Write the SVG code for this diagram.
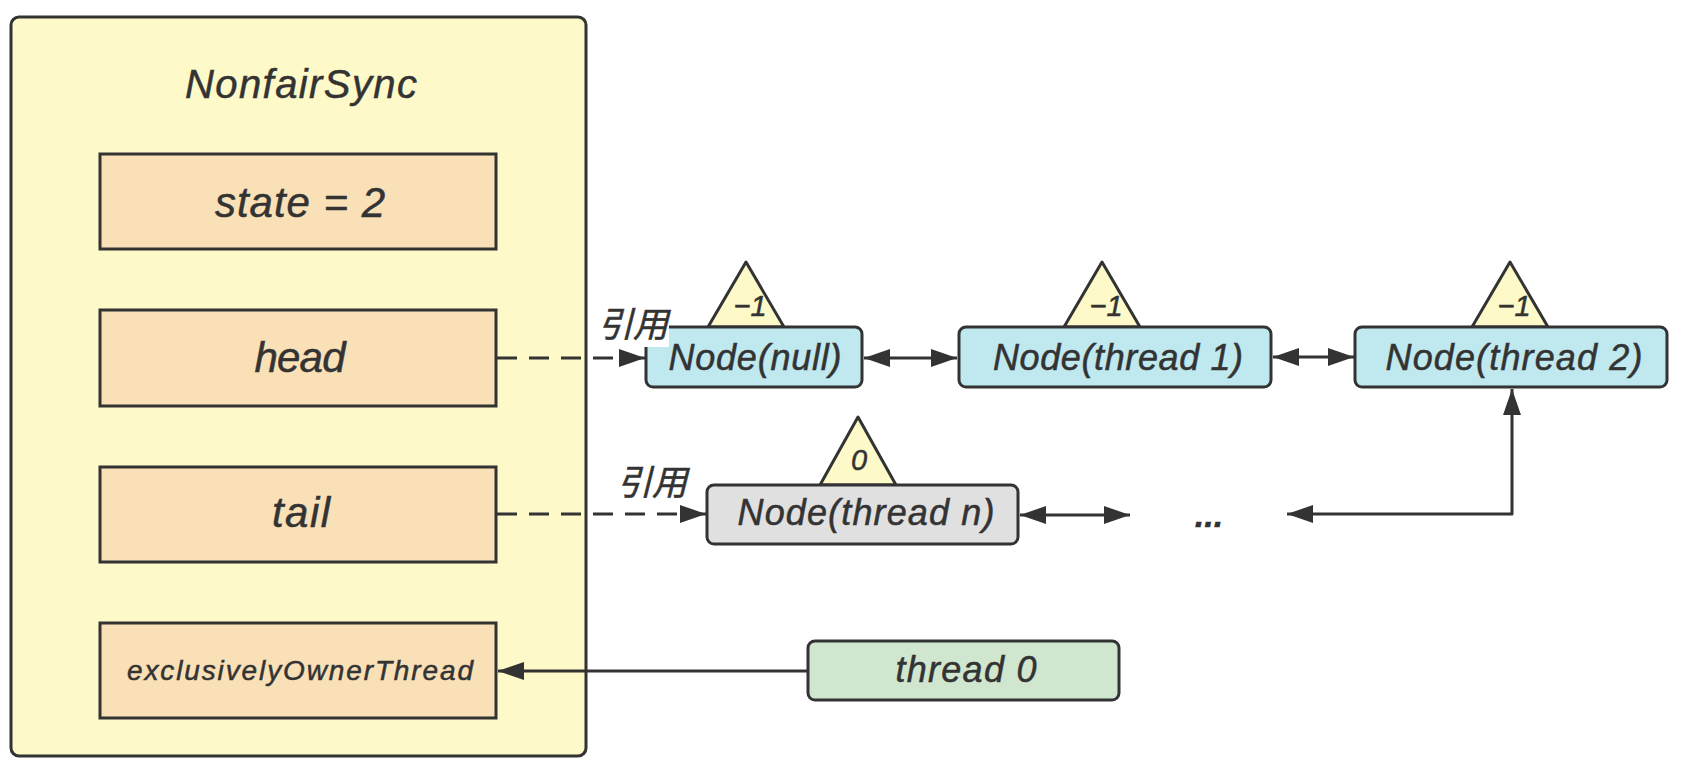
<svg xmlns="http://www.w3.org/2000/svg" width="1686" height="778" viewBox="0 0 1686 778">
<defs>
<style>
.t{font-family:"Liberation Sans",Arial,sans-serif;font-style:italic;fill:#333;stroke:#333;stroke-width:0.5;text-anchor:middle}
.cjk{font-family:"Liberation Sans","Noto Sans CJK SC",sans-serif;font-style:italic;fill:#333;stroke:#333;stroke-width:0.6;text-anchor:middle}
.outer{fill:#fef9c8;stroke:#333;stroke-width:3}
.field{fill:#f9e0b7;stroke:#333;stroke-width:3}
.node{fill:#bfe8ef;stroke:#333;stroke-width:3}
.gnode{fill:#e0e0e0;stroke:#333;stroke-width:3}
.thr{fill:#d0e6ce;stroke:#333;stroke-width:3}
.tri{fill:#fef9c8;stroke:#333;stroke-width:3;stroke-linejoin:round}
.ln{fill:none;stroke:#333;stroke-width:3}
.dash{stroke-dasharray:20 12}
</style>
<marker id="ah" markerUnits="userSpaceOnUse" markerWidth="26" markerHeight="20" refX="26" refY="10" orient="auto-start-reverse">
<path d="M0,1 L26,10 L0,19 z" fill="#333"/>
</marker>
</defs>
<rect width="1686" height="778" fill="#fff"/>

<g id="nonfairsync">
<rect class="outer" x="11" y="17" width="575" height="739" rx="8"/>
<text class="t" x="301" y="98" font-size="40" textLength="232">NonfairSync</text>
</g>
<g id="state">
<rect class="field" x="100" y="154" width="396" height="95"/>
<text class="t" x="300" y="217" font-size="42" textLength="170">state = 2</text>
</g>
<g id="head">
<rect class="field" x="100" y="310" width="396" height="96"/>
<text class="t" x="300" y="372" font-size="42" textLength="91">head</text>
</g>
<g id="tail">
<rect class="field" x="100" y="467" width="396" height="95"/>
<text class="t" x="301" y="527" font-size="42" textLength="58">tail</text>
</g>
<g id="owner">
<rect class="field" x="100" y="623" width="396" height="95"/>
<text class="t" x="300" y="680" font-size="28" textLength="346">exclusivelyOwnerThread</text>
</g>

<g id="node-null">
<polygon class="tri" points="746,262 784,327 708,327"/>
<text class="t" x="750" y="316" font-size="29">−1</text>
<rect class="node" x="646" y="327" width="216" height="60" rx="7"/>
<text class="t" x="755" y="370" font-size="36" textLength="173">Node(null)</text>
</g>
<g id="node-thread1">
<polygon class="tri" points="1102,262 1140,327 1064,327"/>
<text class="t" x="1106" y="316" font-size="29">−1</text>
<rect class="node" x="959" y="327" width="312" height="60" rx="7"/>
<text class="t" x="1118" y="370" font-size="36" textLength="250">Node(thread 1)</text>
</g>
<g id="node-thread2">
<polygon class="tri" points="1510,262 1548,327 1472,327"/>
<text class="t" x="1514" y="316" font-size="29">−1</text>
<rect class="node" x="1355" y="327" width="312" height="60" rx="7"/>
<text class="t" x="1514" y="370" font-size="36" textLength="257">Node(thread 2)</text>
</g>
<g id="node-threadn">
<polygon class="tri" points="858,417 896,485 820,485"/>
<text class="t" x="859" y="470" font-size="29">0</text>
<rect class="gnode" x="707" y="485" width="311" height="59" rx="7"/>
<text class="t" x="866" y="525" font-size="36" textLength="257">Node(thread n)</text>
</g>
<g id="ellipsis">
<text class="t" x="1209" y="527" font-size="34" font-weight="bold">...</text>
</g>
<g id="thread0">
<rect class="thr" x="808" y="641" width="311" height="59" rx="7"/>
<text class="t" x="966" y="682" font-size="36" textLength="141">thread 0</text>
</g>

<g id="connectors">
<line class="ln dash" x1="497" y1="358" x2="645" y2="358" marker-end="url(#ah)"/>
<rect x="594" y="300" width="75" height="47" fill="#fff"/>
<text class="cjk" x="633" y="337" font-size="35">引用</text>
<line class="ln dash" x1="497" y1="514" x2="706" y2="514" marker-end="url(#ah)"/>
<text class="cjk" x="652" y="495" font-size="35">引用</text>
<line class="ln" x1="864" y1="358" x2="957" y2="358" marker-start="url(#ah)" marker-end="url(#ah)"/>
<line class="ln" x1="1273" y1="357" x2="1354" y2="357" marker-start="url(#ah)" marker-end="url(#ah)"/>
<line class="ln" x1="1020" y1="515" x2="1130" y2="515" marker-start="url(#ah)" marker-end="url(#ah)"/>
<polyline class="ln" points="1287,514 1512,514 1512,389" stroke-linejoin="round" marker-start="url(#ah)" marker-end="url(#ah)"/>
<line class="ln" x1="807" y1="671" x2="498" y2="671" marker-end="url(#ah)"/>
</g>
</svg>
